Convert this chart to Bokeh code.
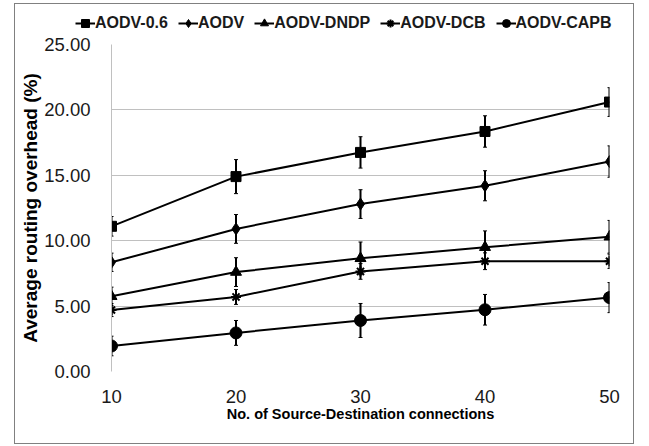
from bokeh.plotting import figure
from bokeh.layouts import column
from bokeh.models import (Legend, LegendItem, Whisker, ColumnDataSource, FixedTicker,
                          NumeralTickFormatter, Range1d, TeeHead, LinearAxis)
from bokeh.embed import file_html
from bokeh.resources import INLINE

connections = [10, 20, 30, 40, 50]
series_names = ["AODV-0.6", "AODV", "AODV-DNDP", "AODV-DCB", "AODV-CAPB"]
aodv_06 = [11.1, 14.9, 16.75, 18.35, 20.6]
aodv_06_err = [0.75, 1.3, 1.2, 1.2, 1.1]
aodv = [8.35, 10.9, 12.8, 14.2, 16.05]
aodv_err = [0.7, 1.1, 1.1, 1.15, 1.2]
aodv_dndp = [5.75, 7.6, 8.65, 9.5, 10.3]
aodv_dndp_err = [0.7, 1.1, 1.25, 1.25, 1.25]
aodv_dcb = [4.7, 5.7, 7.65, 8.43, 8.43]
aodv_dcb_err = [0.5, 0.57, 0.6, 0.64, 0.55]
aodv_capb = [1.95, 2.95, 3.9, 4.72, 5.65]
aodv_capb_err = [0.75, 0.95, 1.3, 1.17, 1.15]
y_ticks = [0, 5, 10, 15, 20, 25]

values = [aodv_06, aodv, aodv_dndp, aodv_dcb, aodv_capb]
errors = [aodv_06_err, aodv_err, aodv_dndp_err, aodv_dcb_err, aodv_capb_err]
markers = ["square", "diamond", "triangle", "asterisk", "circle"]
msizes = [10, 12, 11, 10, 12]
FONT = "Liberation Sans"

# legend strip (no axes; its renderers share the data but fall outside its range)
lg = figure(width=618, height=30, output_backend="svg", toolbar_location=None,
            x_range=Range1d(0, 1), y_range=Range1d(-1, 0),
            x_axis_location=None, y_axis_location=None,
            min_border_left=0, min_border_right=0, min_border_top=0, min_border_bottom=0)
lg.frame_align = False
lg.grid.visible = False
lg.outline_line_color = None

# main chart
p = figure(width=618, height=409, output_backend="svg", toolbar_location=None,
           x_range=Range1d(10, 50), y_range=Range1d(0, 25),
           min_border_left=96, min_border_right=24, min_border_top=10, min_border_bottom=72)
p.frame_align = False
p.outline_line_color = None
p.xgrid.grid_line_color = None
p.ygrid.grid_line_color = "#c0c0c0"
p.ygrid.grid_line_width = 1

p.yaxis.ticker = FixedTicker(ticks=y_ticks)
p.xaxis.ticker = FixedTicker(ticks=connections)
p.yaxis.formatter = NumeralTickFormatter(format="0.00")
for ax in (p.xaxis, p.yaxis):
    ax.major_tick_line_color = None
    ax.minor_tick_line_color = None
    ax.major_label_text_font = FONT
    ax.major_label_text_font_size = "18.5px"
    ax.major_label_text_color = "#1a1a1a"
    ax.axis_label_text_font = FONT
    ax.axis_label_text_font_style = "bold"
    ax.axis_label_text_color = "#000000"
p.xaxis.axis_line_color = None
p.yaxis.axis_line_color = "#c0c0c0"
p.yaxis.major_label_standoff = 15
p.xaxis.major_label_standoff = 12
p.yaxis.axis_label = "Average routing overhead (%)"
p.yaxis.axis_label_text_font_size = "19px"
p.yaxis.axis_label_standoff = 0

# x title on a tick-less helper axis, so it can sit left of the frame centre as in the reference
p.extra_x_ranges = {"title": Range1d(0, 1)}
title_axis = LinearAxis(x_range_name="title", ticker=FixedTicker(ticks=[]), bounds=(0, 0.91),
                        axis_label="No. of Source-Destination connections",
                        axis_line_color=None, major_tick_line_color=None, minor_tick_line_color=None,
                        axis_label_text_font=FONT, axis_label_text_font_style="bold",
                        axis_label_text_font_size="14.5px", axis_label_text_color="#000000",
                        axis_label_standoff=0)
p.add_layout(title_axis, "below")

items = []
for name, vals, errs, mk, ms in zip(series_names, values, errors, markers, msizes):
    src = ColumnDataSource(dict(x=connections, y=vals,
                                lo=[v - e for v, e in zip(vals, errs)],
                                hi=[v + e for v, e in zip(vals, errs)]))
    w = Whisker(base="x", lower="lo", upper="hi", source=src, line_color="black", line_width=2,
                upper_head=TeeHead(size=4, line_color="black", line_width=1),
                lower_head=TeeHead(size=4, line_color="black", line_width=1))
    p.add_layout(w)
    p.line("x", "y", source=src, line_color="black", line_width=2)
    p.scatter("x", "y", source=src, marker=mk, size=ms, fill_color="black",
              line_color="black", line_width=2 if mk == "asterisk" else 1)
    l1 = lg.line("x", "y", source=src, line_color="black", line_width=2)
    l2 = lg.scatter("x", "y", source=src, marker=mk, size=ms, fill_color="black",
                    line_color="black", line_width=2 if mk == "asterisk" else 1)
    items.append(LegendItem(label=name, renderers=[l1, l2]))

legend = Legend(items=items, orientation="horizontal", location=(60, 1),
                label_text_font=FONT, label_text_font_style="bold",
                label_text_font_size="16px", label_text_color="#1a1a1a",
                glyph_width=20, glyph_height=20, label_standoff=0, spacing=10,
                padding=0, margin=0, label_height=14,
                background_fill_alpha=0, border_line_color=None)
lg.add_layout(legend, "center")

layout = column(lg, p, spacing=0, margin=(3, 0, 0, 14))
layout.styles = {"border": "1px solid #808080"}

open("out.html", "w").write(file_html(layout, INLINE))
